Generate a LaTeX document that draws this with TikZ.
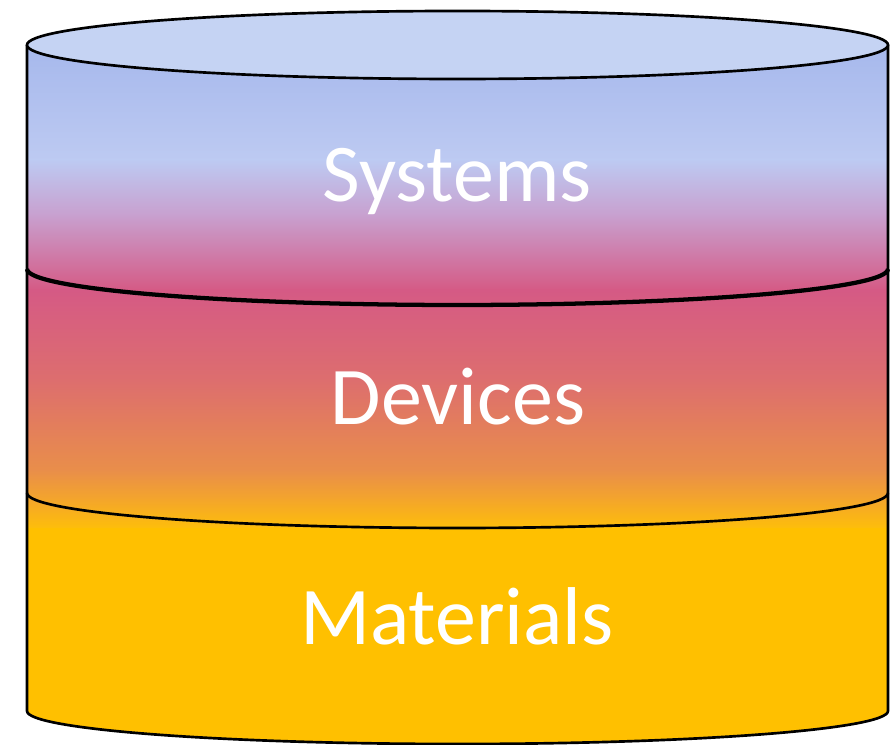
\documentclass[tikz,border=0pt]{standalone}
\usepackage{fontspec}
\setmainfont{Carlito}

\definecolor{capblue}{HTML}{C5D3F3}
\definecolor{sysA}{HTML}{A6B8EC}
\definecolor{sysB}{HTML}{BDCAF2}
\definecolor{sysC}{HTML}{C8A0CF}
\definecolor{devA}{HTML}{D55A85}
\definecolor{devB}{HTML}{DD6E6E}
\definecolor{devC}{HTML}{E98E4A}
\definecolor{matA}{HTML}{F4A62A}
\definecolor{matB}{HTML}{FEBE0A}
\definecolor{matC}{HTML}{FFC000}

\begin{document}
\begin{tikzpicture}[x=0.75pt,y=0.75pt,
  rim/.style={line width=2pt, line join=round},
  layername/.style={text=white, font=\fontsize{61.5}{72}\selectfont, anchor=base}]

\useasboundingbox (0,0) rectangle (890,745);

\coordinate (TL) at (27,700);
\coordinate (TR) at (888,700);
\coordinate (BL) at (27,34);
\coordinate (BR) at (888,34);
\coordinate (ML) at (27,476);
\coordinate (NL) at (27,252);
\coordinate (TC) at (457.5,700);

% body colours
\begin{scope}
\clip (TL) -- (BL) arc[start angle=180, end angle=360, x radius=430.5, y radius=33] -- (TR) -- cycle;
\shade [top color=sysA, bottom color=sysB] (0,701) rectangle (890,584.5);
\shade [top color=sysB, bottom color=sysC] (0,585) rectangle (890,529.5);
\shade [top color=sysC, bottom color=devA] (0,530) rectangle (890,454.5);
\shade [top color=devA, bottom color=devB] (0,455) rectangle (890,364.5);
\shade [top color=devB, bottom color=devC] (0,365) rectangle (890,274.5);
\shade [top color=devC, bottom color=matA] (0,275) rectangle (890,244.5);
\shade [top color=matA, bottom color=matB] (0,245) rectangle (890,216.5);
\fill [matC] (0,217) rectangle (890,0);
\end{scope}

% outline
\draw [rim] (TL) -- (BL) arc[start angle=180, end angle=360, x radius=430.5, y radius=33] -- (TR);
\draw [rim, fill=capblue] (TC) ellipse [x radius=430.5, y radius=34];

% layer borders
\draw [line width=3.2pt] (ML) arc[start angle=180, end angle=360, x radius=430.5, y radius=36];
\draw [rim] (NL) arc[start angle=180, end angle=360, x radius=430.5, y radius=35];

\node [layername] (systems) at (457,543) {Systems};
\node [layername] (devices) at (458,320) {Devices};
\node [layername] (materials) at (457,100) {Materials};

\end{tikzpicture}
\end{document}
